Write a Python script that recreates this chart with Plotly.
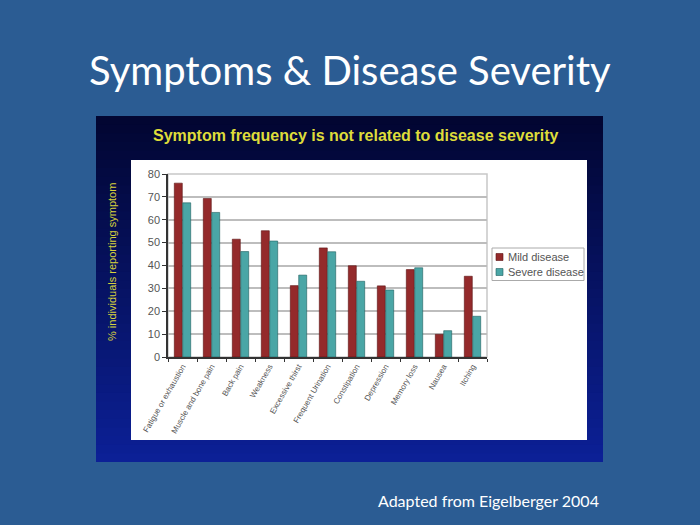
import plotly.graph_objects as go

categories = ["Fatigue or exhaustion", "Muscle and bone pain", "Back pain", "Weakness",
              "Excessive thirst", "Frequent Urination", "Constipation", "Depression",
              "Memory loss", "Nausea", "Itching"]
mild = [76, 69.3, 51.5, 55.2, 31.2, 47.7, 39.9, 31.1, 38.2, 9.9, 35.3]
severe = [67.4, 63.2, 46.1, 50.7, 35.8, 46, 33.1, 29.3, 39, 11.5, 17.8]
series_names = ["Mild disease", "Severe disease"]
series_colors = ["#942A2B", "#4AA6A6"]
series_edges = ["#5A1010", "#1E5E5E"]
yticks = [0, 10, 20, 30, 40, 50, 60, 70, 80]

W, H = 700, 525
def px(x): return x / W
def py(y): return 1 - y / H

fig = go.Figure()
for vals, name, col, edge in zip([mild, severe], series_names, series_colors, series_edges):
    fig.add_trace(go.Bar(x=categories, y=vals, name=name, showlegend=False,
                         marker=dict(color=col, line=dict(color=edge, width=0.6))))

shapes = []
# dark gradient picture background
n = 40
top_y, bot_y = 116, 462
c0 = (2, 6, 50)
c1 = (12, 32, 150)
for i in range(n):
    t = i / (n - 1)
    c = tuple(int(c0[k] + (c1[k] - c0[k]) * t) for k in range(3))
    y0 = top_y + (bot_y - top_y) * i / n
    y1 = top_y + (bot_y - top_y) * (i + 1) / n + 0.8
    shapes.append(dict(type="rect", xref="paper", yref="paper", layer="below",
                       x0=px(96), x1=px(603), y0=py(min(y1, bot_y)), y1=py(y0),
                       line=dict(width=0), fillcolor="rgb(%d,%d,%d)" % c))
# white chart panel
shapes.append(dict(type="rect", xref="paper", yref="paper", layer="below",
                   x0=px(131), x1=px(587), y0=py(440), y1=py(160),
                   line=dict(width=0), fillcolor="white"))
# plot area border
shapes.append(dict(type="rect", xref="paper", yref="paper", layer="below",
                   x0=px(168), x1=px(487), y0=py(357), y1=py(174),
                   line=dict(width=1.5, color="#C8C8C8"), fillcolor="rgba(0,0,0,0)"))
# legend box
shapes.append(dict(type="rect", xref="paper", yref="paper", layer="above",
                   x0=px(492), x1=px(584), y0=py(280.5), y1=py(248),
                   line=dict(width=1, color="#AAAAAA"), fillcolor="white"))

annotations = [
    dict(text="Symptoms & Disease Severity", x=0.5, y=py(70), xref="paper", yref="paper",
         showarrow=False, font=dict(family="Lato", size=40, color="white"),
         xanchor="center", yanchor="middle"),
    dict(text="<b>Symptom frequency is not related to disease severity</b>", x=px(356), y=py(135),
         xref="paper", yref="paper", showarrow=False,
         font=dict(family="Liberation Sans", size=16, color="#DEDC3A"),
         xanchor="center", yanchor="middle"),
    dict(text="% individuals reporting symptom", x=px(112), y=py(262), xref="paper", yref="paper",
         showarrow=False, textangle=-90,
         font=dict(family="Liberation Sans", size=11, color="#D8D23C"),
         xanchor="center", yanchor="middle"),
    dict(text="Adapted from Eigelberger 2004", x=px(488), y=py(500), xref="paper", yref="paper",
         showarrow=False, font=dict(family="Lato", size=16, color="white"),
         xanchor="center", yanchor="middle"),
]

# manual compact legend
for i, (name, col, edge) in enumerate(zip(series_names, series_colors, series_edges)):
    yc = 257 + 15 * i
    shapes.append(dict(type="rect", xref="paper", yref="paper", layer="above",
                       x0=px(496), x1=px(503), y0=py(yc + 3.5), y1=py(yc - 3.5),
                       line=dict(width=0.6, color=edge), fillcolor=col))
    annotations.append(dict(text=name, x=px(506), y=py(yc), xref="paper", yref="paper",
                            showarrow=False, xanchor="left", yanchor="middle",
                            font=dict(family="Liberation Sans", size=11, color="#555555")))

fig.update_layout(
    width=W, height=H,
    margin=dict(l=0, r=0, t=0, b=0),
    paper_bgcolor="#2B5C93",
    plot_bgcolor="rgba(0,0,0,0)",
    barmode="group", bargap=0.42, bargroupgap=0.05,
    shapes=shapes, annotations=annotations,
    showlegend=False,
    xaxis=dict(domain=[px(168), px(487)], type="category", tickangle=-60,
               tickfont=dict(family="Liberation Sans", size=8, color="#555555"),
               ticks="outside", ticklen=3, tickson="boundaries", tickcolor="#333333",
               showline=True, linecolor="#333333", linewidth=1.5,
               showgrid=False, automargin=False),
    yaxis=dict(domain=[py(357), py(174)], range=[0, 80], tickvals=yticks,
               tickfont=dict(family="Liberation Sans", size=11, color="#555555"),
               ticks="outside", ticklen=4, tickcolor="#333333",
               showline=True, linecolor="#333333", linewidth=1.5,
               showgrid=True, gridcolor="#BDBDBD", gridwidth=2,
               zeroline=False, automargin=False),
)

fig.write_html("out.html")
